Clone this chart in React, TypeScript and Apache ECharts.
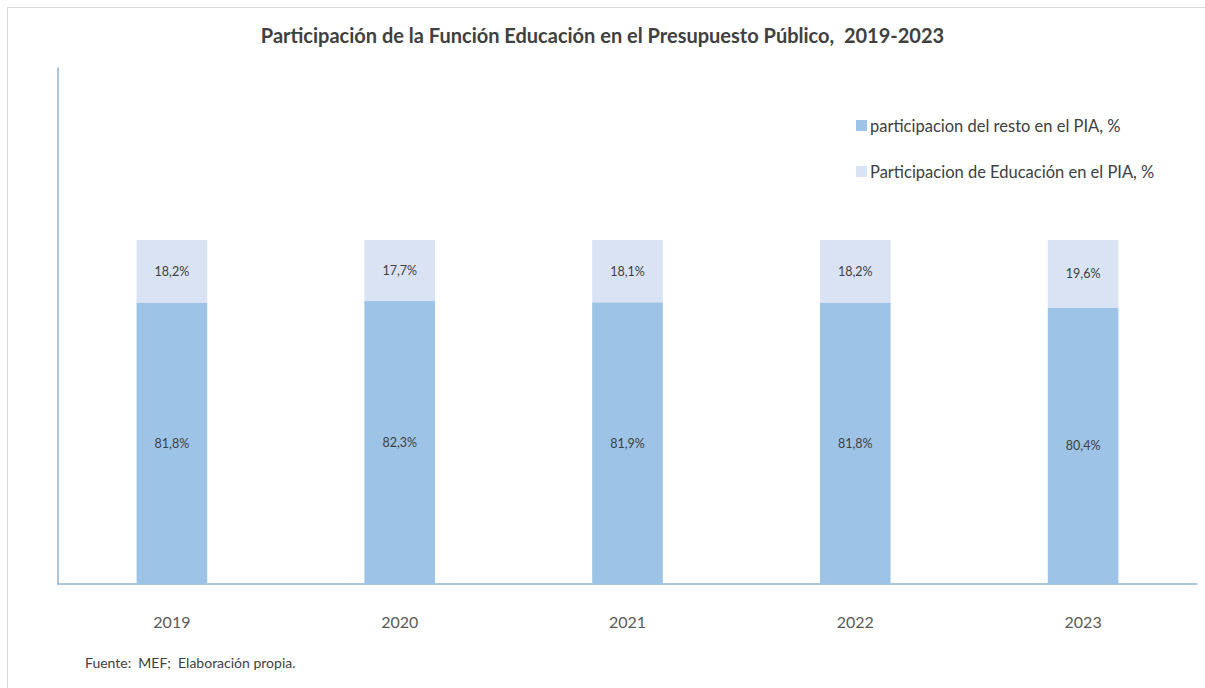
import React, { useEffect, useRef } from "react";
import * as echarts from "echarts";

const categories = ["2019", "2020", "2021", "2022", "2023"];
const restoValues = [81.8, 82.3, 81.9, 81.8, 80.4];
const educacionValues = [18.2, 17.7, 18.1, 18.2, 19.6];
const seriesNames = ["participacion del resto en el PIA, %", "Participacion de Educación en el PIA, %"];
const titleText = "Participación de la Función Educación en el Presupuesto Público,  2019-2023";
const sourceText = "Fuente:  MEF;  Elaboración propia.";

const FONT = "Lato, 'Open Sans', sans-serif";
const fmt = (v: number) => v.toFixed(1).replace(".", ",") + "%";

export default function App() {
  const ref = useRef<HTMLDivElement>(null);
  useEffect(() => {
    if (!ref.current) return;
    const chart = echarts.init(ref.current, undefined, { renderer: "svg" });
    chart.setOption({
      animation: false,
      backgroundColor: "#ffffff",
      title: {
        text: titleText,
        left: "center",
        top: 20,
        textStyle: { fontFamily: FONT, fontSize: 20, fontWeight: "bold", color: "#404040" },
      },
      legend: {
        orient: "vertical",
        left: 851,
        top: 112,
        itemWidth: 11,
        itemHeight: 11,
        itemGap: 29,
        icon: "rect",
        textStyle: { fontFamily: FONT, fontSize: 16.5, color: "#404040", padding: [0, 0, 0, -2] },
        data: seriesNames,
      },
      grid: { left: 58, right: 8, top: 68, bottom: 104 },
      xAxis: {
        type: "category",
        data: categories,
        axisLine: { lineStyle: { color: "#8fb4d6", width: 1.5 } },
        axisTick: { show: false },
        axisLabel: { margin: 29, fontFamily: FONT, fontSize: 16, color: "#595959" },
      },
      yAxis: {
        type: "value",
        min: 0,
        max: 150,
        axisLine: { show: true, lineStyle: { color: "#8fb0cc", width: 1.5 } },
        axisTick: { show: false },
        axisLabel: { show: false },
        splitLine: { show: false },
      },
      series: [
        {
          name: seriesNames[0],
          type: "bar",
          stack: "total",
          barWidth: "31%",
          data: restoValues,
          itemStyle: { color: "#9dc3e6" },
          label: {
            show: true,
            position: "inside",
            formatter: (p: any) => fmt(p.value),
            fontFamily: FONT,
            fontSize: 12.5,
            color: "#404040",
          },
        },
        {
          name: seriesNames[1],
          type: "bar",
          stack: "total",
          barWidth: "31%",
          data: educacionValues,
          itemStyle: { color: "#dae3f3" },
          label: {
            show: true,
            position: "inside",
            formatter: (p: any) => fmt(p.value),
            fontFamily: FONT,
            fontSize: 12.5,
            color: "#404040",
          },
        },
      ],
      graphic: [
        {
          type: "text",
          left: 85,
          top: 655,
          style: { text: sourceText, fontFamily: FONT, fontSize: 14, fill: "#404040" },
        },
        {
          type: "line",
          shape: { x1: 7, y1: 7.5, x2: 1205, y2: 7.5 },
          style: { stroke: "#d9d9d9", lineWidth: 1 },
        },
        {
          type: "line",
          shape: { x1: 7.5, y1: 7, x2: 7.5, y2: 688 },
          style: { stroke: "#d9d9d9", lineWidth: 1 },
        },
      ],
    });
    return () => chart.dispose();
  }, []);
  return (
    <div
      ref={ref}
      style={{ position: "absolute", left: 0, top: 0, width: 1205, height: 688 }}
    />
  );
}
